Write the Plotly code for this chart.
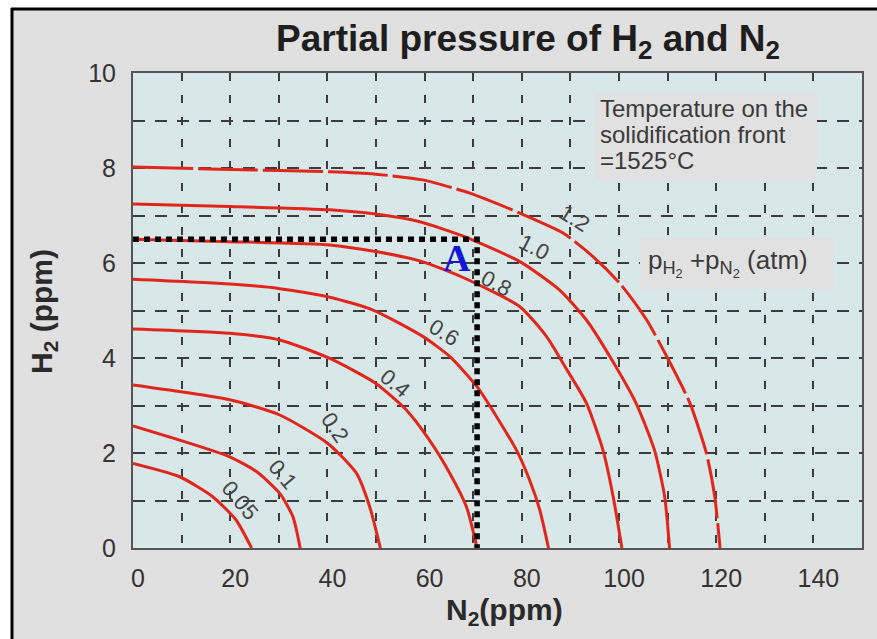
import plotly.graph_objects as go

# ---- data: isobars of p(H2) + p(N2) in atm, read as (N2 ppm, H2 ppm) pairs ----
levels = ["0.05", "0.1", "0.2", "0.4", "0.6", "0.8", "1.0", "1.2"]

n2_005 = [0, 9.6, 16.4, 21.2, 24.4]
h2_005 = [1.78, 1.50, 1.08, 0.59, 0]

n2_01 = [0, 9.6, 19.9, 25.4, 30.2, 32.9, 34.4]
h2_01 = [2.57, 2.27, 1.92, 1.61, 1.15, 0.66, 0]

n2_02 = [0, 19.9, 30.2, 40.1, 46.0, 48.7, 50.9]
h2_02 = [3.43, 3.12, 2.80, 2.20, 1.57, 0.87, 0]

n2_04 = [0, 19.9, 30.2, 40.5, 49.9, 56.2, 61.0, 65.2, 68.6, 70.8]
h2_04 = [4.61, 4.52, 4.38, 3.99, 3.47, 2.91, 2.27, 1.57, 0.87, 0]

n2_06 = [0, 19.9, 30.2, 40.5, 49.4, 59.7, 65.2, 70.9, 78.9, 81.6, 83.7, 85.5]
h2_06 = [5.66, 5.56, 5.46, 5.28, 5.01, 4.45, 4.03, 3.38, 2.06, 1.43, 0.80, 0]

n2_08 = [0, 19.9, 40.5, 49.9, 59.2, 67.8, 79.6, 85.1, 89.0, 93.3, 96.7, 98.8, 100.6]
h2_08 = [6.50, 6.45, 6.38, 6.24, 6.04, 5.70, 5.08, 4.45, 3.80, 3.05, 2.06, 1.08, 0]

n2_10 = [0, 19.9, 40.5, 49.9, 59.0, 67.8, 79.6, 87.8, 93.3, 98.3, 103.5, 107.3, 109.4, 110.4]
h2_10 = [7.24, 7.19, 7.12, 7.03, 6.87, 6.57, 6.03, 5.43, 4.80, 4.00, 3.05, 2.06, 1.08, 0]

n2_12 = [0, 20, 40.5, 49.9, 59.6, 69.3, 79.6, 88.5, 94.7, 100.2, 105.7, 110.5, 114.6, 118.0, 119.7, 120.8]
h2_12 = [8.02, 7.97, 7.92, 7.87, 7.75, 7.47, 7.05, 6.63, 6.13, 5.57, 4.80, 3.90, 3.05, 1.99, 1.08, 0]

curves_n2 = [n2_005, n2_01, n2_02, n2_04, n2_06, n2_08, n2_10, n2_12]
curves_h2 = [h2_005, h2_01, h2_02, h2_04, h2_06, h2_08, h2_10, h2_12]

# worked example point A
A_N2 = 70.8
A_H2 = 6.5

x_tick_vals = [0, 20, 40, 60, 80, 100, 120, 140]
x_tick_text = ["0", "20", "40", "60", "80", "100", "120", "140"]
y_tick_vals = [0, 2, 4, 6, 8, 10]
y_tick_text = ["0", "2", "4", "6", "8", "10"]

temperature_lines = ["Temperature on the", "solidification front", "=1525°C"]

# ---- layout geometry ----
W, H = 877, 639
ML, MR, MT, MB = 133, 15, 73, 91
PW, PH = W - ML - MR, H - MT - MB


def px_x(px):
    return (px - ML) / PW


def px_y(py):
    return (H - MB - py) / PH


RED = "#e2261c"
SANS = "Liberation Sans, Arial, sans-serif"
BOX = "#e1e1e1"
GRID = "#3c3c3c"

fig = go.Figure()

for i, (xs, ys) in enumerate(zip(curves_n2, curves_h2)):
    fig.add_trace(go.Scatter(
        x=xs, y=ys, mode="lines", name=levels[i],
        line=dict(color=RED, width=3, shape="spline", smoothing=0.6,
                  dash="60px,5px" if levels[i] == "1.2" else "solid"),
        hoverinfo="skip", showlegend=False,
    ))

# dotted guide lines to point A
fig.add_trace(go.Scatter(
    x=[0, A_N2, A_N2], y=[A_H2, A_H2, 0], mode="lines",
    line=dict(color="black", width=5.5, dash="6px,5px"),
    hoverinfo="skip", showlegend=False,
))

# isobar labels: (N2, H2, angle)
label_spots = [
    (22.1, 1.01, 50), (30.8, 1.54, 50), (41.6, 2.54, 56), (54.0, 3.47, 40),
    (64.0, 4.54, 32), (74.8, 5.57, 28), (82.7, 6.33, 27), (90.9, 6.93, 32),
]
for lab, (lx, ly, ang) in zip(levels, label_spots):
    fig.add_annotation(x=lx, y=ly, text=lab, showarrow=False, textangle=ang,
                       font=dict(family=SANS, size=22, color="#444"))

# point A marker text
fig.add_annotation(x=A_N2, y=A_H2, text="<b>A</b>", showarrow=False,
                   xanchor="right", yanchor="top", xshift=-4, yshift=4,
                   font=dict(family="Liberation Serif, Times New Roman, serif",
                             size=38, color="#1414d6"))

# info box: temperature
fig.add_shape(type="rect", xref="paper", yref="paper",
              x0=px_x(595), x1=px_x(817), y0=px_y(181), y1=px_y(93),
              fillcolor=BOX, line_width=0)
for k, line_text in enumerate(temperature_lines):
    fig.add_annotation(xref="paper", yref="paper", x=px_x(598), y=px_y(108 + 26 * k),
                       xanchor="left", yanchor="middle", align="left", showarrow=False,
                       text=line_text,
                       font=dict(family=SANS, size=24, color="#3a3a3a"))

# info box: pressure unit
fig.add_shape(type="rect", xref="paper", yref="paper",
              x0=px_x(640), x1=px_x(833), y0=px_y(289), y1=px_y(238),
              fillcolor=BOX, line_width=0)
fig.add_annotation(xref="paper", yref="paper", x=px_x(646), y=px_y(263),
                   xanchor="left", yanchor="middle", align="left", showarrow=False,
                   text="p<sub>H<sub>2</sub></sub> +p<sub>N<sub>2</sub></sub> (atm)",
                   font=dict(family=SANS, size=26, color="#3a3a3a"))

# axis titles
fig.add_annotation(xref="paper", yref="paper", x=px_x(504), y=px_y(611),
                   xanchor="center", yanchor="middle",
                   text="<b>N<sub>2</sub>(ppm)</b>", showarrow=False,
                   font=dict(family=SANS, size=30, color="#2a2a2a"))
fig.add_annotation(xref="paper", yref="paper", x=px_x(43), y=px_y(312),
                   xanchor="center", yanchor="middle",
                   text="<b>H<sub>2</sub> (ppm)</b>", showarrow=False, textangle=-90,
                   font=dict(family=SANS, size=30, color="#2a2a2a"))

# image frame: white margin strip with black edge at top and left
fig.add_shape(type="rect", xref="paper", yref="paper", x0=px_x(0), x1=px_x(W),
              y0=px_y(0), y1=px_y(8), fillcolor="white", line_width=0, layer="below")
fig.add_shape(type="rect", xref="paper", yref="paper", x0=px_x(0), x1=px_x(11),
              y0=px_y(0), y1=px_y(H), fillcolor="white", line_width=0, layer="below")
fig.add_shape(type="line", xref="paper", yref="paper", x0=px_x(11), x1=px_x(W),
              y0=px_y(9), y1=px_y(9), line=dict(color="black", width=3))
fig.add_shape(type="line", xref="paper", yref="paper", x0=px_x(12), x1=px_x(12),
              y0=px_y(8), y1=px_y(H), line=dict(color="black", width=3))

fig.update_layout(
    width=W, height=H,
    margin=dict(l=ML, r=MR, t=MT, b=MB),
    paper_bgcolor="#e0e0e0",
    plot_bgcolor="#d8e8e8",
    title=dict(text="<b>Partial pressure of H<sub>2</sub> and N<sub>2</sub></b>",
               x=528 / W, y=1 - 38 / H, xanchor="center", yanchor="middle",
               font=dict(family=SANS, size=37, color="#1e1e1e")),
    xaxis=dict(range=[0, 150], tickvals=x_tick_vals, ticktext=x_tick_text,
               showgrid=True, gridcolor=GRID, gridwidth=1.5, griddash="8px,14px",
               minor=dict(dtick=10, tick0=0, showgrid=True, gridcolor=GRID,
                          gridwidth=1.5, griddash="8px,14px"),
               zeroline=False, showline=True, mirror=True, linecolor="#555", linewidth=2,
               ticks="", ticklabelstandoff=7, ticklabelshift=5,
               tickfont=dict(family=SANS, size=25, color="#333")),
    yaxis=dict(range=[0, 10], tickvals=y_tick_vals, ticktext=y_tick_text,
               showgrid=True, gridcolor=GRID, gridwidth=1.5, griddash="12px,10px",
               minor=dict(dtick=1, tick0=0, showgrid=True, gridcolor=GRID,
                          gridwidth=1.5, griddash="12px,10px"),
               zeroline=False, showline=True, mirror=True, linecolor="#555", linewidth=2,
               ticks="", ticklabelstandoff=10,
               tickfont=dict(family=SANS, size=25, color="#333")),
)

fig.write_html("out.html")
